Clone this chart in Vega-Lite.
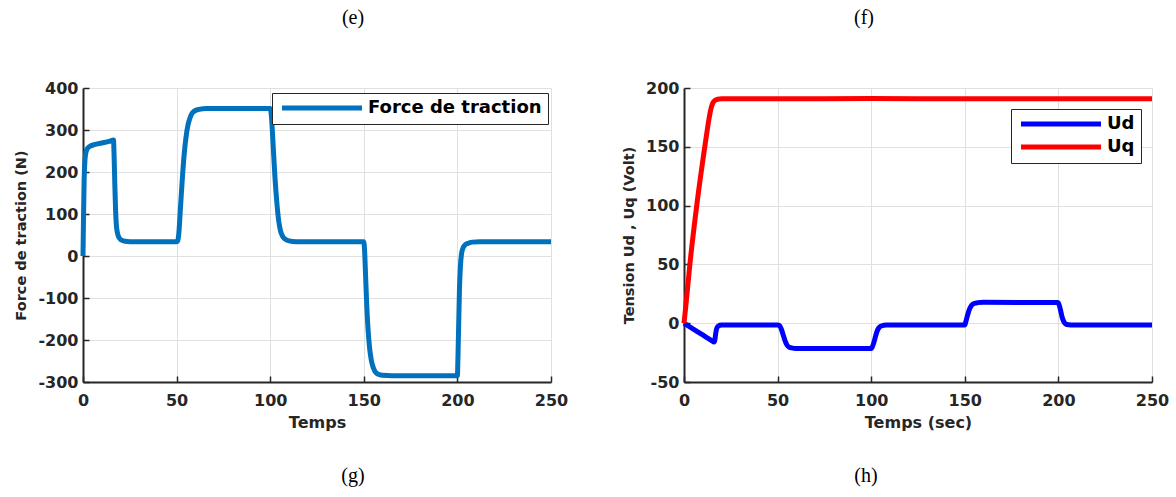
{
  "$schema": "https://vega.github.io/schema/vega-lite/v6.json",
  "background": "white",
  "padding": {"left": 13, "top": 8, "right": 3, "bottom": 5},
  "datasets": {
    "force": [
      {"t": 0, "v": 0, "s": "Force de traction"},
      {"t": 0.3, "v": 100, "s": "Force de traction"},
      {"t": 0.6, "v": 180, "s": "Force de traction"},
      {"t": 1, "v": 225, "s": "Force de traction"},
      {"t": 1.5, "v": 245, "s": "Force de traction"},
      {"t": 2, "v": 253, "s": "Force de traction"},
      {"t": 3, "v": 259, "s": "Force de traction"},
      {"t": 4, "v": 262, "s": "Force de traction"},
      {"t": 6, "v": 265, "s": "Force de traction"},
      {"t": 10, "v": 269, "s": "Force de traction"},
      {"t": 14, "v": 273, "s": "Force de traction"},
      {"t": 16.3, "v": 276, "s": "Force de traction"},
      {"t": 16.6, "v": 240, "s": "Force de traction"},
      {"t": 17, "v": 170, "s": "Force de traction"},
      {"t": 17.4, "v": 110, "s": "Force de traction"},
      {"t": 17.8, "v": 75, "s": "Force de traction"},
      {"t": 18.4, "v": 55, "s": "Force de traction"},
      {"t": 19.2, "v": 44, "s": "Force de traction"},
      {"t": 20.5, "v": 38, "s": "Force de traction"},
      {"t": 22.5, "v": 35, "s": "Force de traction"},
      {"t": 25, "v": 34, "s": "Force de traction"},
      {"t": 50, "v": 34, "s": "Force de traction"},
      {"t": 50.7, "v": 38, "s": "Force de traction"},
      {"t": 51.3, "v": 60, "s": "Force de traction"},
      {"t": 52, "v": 110, "s": "Force de traction"},
      {"t": 53, "v": 180, "s": "Force de traction"},
      {"t": 54, "v": 240, "s": "Force de traction"},
      {"t": 55, "v": 282, "s": "Force de traction"},
      {"t": 56, "v": 310, "s": "Force de traction"},
      {"t": 57, "v": 327, "s": "Force de traction"},
      {"t": 58, "v": 338, "s": "Force de traction"},
      {"t": 59.5, "v": 345, "s": "Force de traction"},
      {"t": 62, "v": 349, "s": "Force de traction"},
      {"t": 66, "v": 351, "s": "Force de traction"},
      {"t": 100, "v": 351, "s": "Force de traction"},
      {"t": 100.7, "v": 330, "s": "Force de traction"},
      {"t": 101.5, "v": 270, "s": "Force de traction"},
      {"t": 102.5, "v": 190, "s": "Force de traction"},
      {"t": 103.5, "v": 130, "s": "Force de traction"},
      {"t": 104.5, "v": 85, "s": "Force de traction"},
      {"t": 105.5, "v": 60, "s": "Force de traction"},
      {"t": 106.5, "v": 48, "s": "Force de traction"},
      {"t": 108, "v": 40, "s": "Force de traction"},
      {"t": 110, "v": 36, "s": "Force de traction"},
      {"t": 114, "v": 34, "s": "Force de traction"},
      {"t": 150, "v": 34, "s": "Force de traction"},
      {"t": 150.4, "v": 15, "s": "Force de traction"},
      {"t": 150.9, "v": -40, "s": "Force de traction"},
      {"t": 151.5, "v": -110, "s": "Force de traction"},
      {"t": 152.2, "v": -170, "s": "Force de traction"},
      {"t": 153, "v": -215, "s": "Force de traction"},
      {"t": 154, "v": -248, "s": "Force de traction"},
      {"t": 155, "v": -265, "s": "Force de traction"},
      {"t": 156, "v": -275, "s": "Force de traction"},
      {"t": 157.5, "v": -281, "s": "Force de traction"},
      {"t": 160, "v": -284, "s": "Force de traction"},
      {"t": 165, "v": -285, "s": "Force de traction"},
      {"t": 200, "v": -285, "s": "Force de traction"},
      {"t": 200.3, "v": -240, "s": "Force de traction"},
      {"t": 200.7, "v": -160, "s": "Force de traction"},
      {"t": 201.1, "v": -80, "s": "Force de traction"},
      {"t": 201.6, "v": -25, "s": "Force de traction"},
      {"t": 202.2, "v": 5, "s": "Force de traction"},
      {"t": 203, "v": 19, "s": "Force de traction"},
      {"t": 204, "v": 26, "s": "Force de traction"},
      {"t": 205.5, "v": 30, "s": "Force de traction"},
      {"t": 208, "v": 33, "s": "Force de traction"},
      {"t": 212, "v": 34, "s": "Force de traction"},
      {"t": 250, "v": 34, "s": "Force de traction"}
    ],
    "tension": [
      {"t": 0, "v": 0, "s": "Ud"},
      {"t": 4, "v": -4, "s": "Ud"},
      {"t": 8, "v": -8, "s": "Ud"},
      {"t": 12, "v": -12, "s": "Ud"},
      {"t": 15, "v": -15, "s": "Ud"},
      {"t": 16, "v": -16, "s": "Ud"},
      {"t": 16.5, "v": -14, "s": "Ud"},
      {"t": 17, "v": -8, "s": "Ud"},
      {"t": 17.6, "v": -4, "s": "Ud"},
      {"t": 18.5, "v": -2.3, "s": "Ud"},
      {"t": 20, "v": -1.6, "s": "Ud"},
      {"t": 22, "v": -1.5, "s": "Ud"},
      {"t": 50, "v": -1.5, "s": "Ud"},
      {"t": 51, "v": -2, "s": "Ud"},
      {"t": 52, "v": -5, "s": "Ud"},
      {"t": 53, "v": -10, "s": "Ud"},
      {"t": 54, "v": -15, "s": "Ud"},
      {"t": 55, "v": -18.5, "s": "Ud"},
      {"t": 56, "v": -20.2, "s": "Ud"},
      {"t": 57.5, "v": -21, "s": "Ud"},
      {"t": 60, "v": -21.5, "s": "Ud"},
      {"t": 100, "v": -21.5, "s": "Ud"},
      {"t": 100.5, "v": -20.5, "s": "Ud"},
      {"t": 101.5, "v": -16, "s": "Ud"},
      {"t": 102.5, "v": -10, "s": "Ud"},
      {"t": 103.5, "v": -5.5, "s": "Ud"},
      {"t": 104.5, "v": -3.2, "s": "Ud"},
      {"t": 106, "v": -2, "s": "Ud"},
      {"t": 108, "v": -1.6, "s": "Ud"},
      {"t": 110, "v": -1.5, "s": "Ud"},
      {"t": 150, "v": -1.5, "s": "Ud"},
      {"t": 150.5, "v": 1, "s": "Ud"},
      {"t": 151.5, "v": 7, "s": "Ud"},
      {"t": 152.5, "v": 12, "s": "Ud"},
      {"t": 153.5, "v": 15, "s": "Ud"},
      {"t": 155, "v": 16.8, "s": "Ud"},
      {"t": 157, "v": 17.5, "s": "Ud"},
      {"t": 160, "v": 17.8, "s": "Ud"},
      {"t": 199.5, "v": 17.5, "s": "Ud"},
      {"t": 200.3, "v": 16, "s": "Ud"},
      {"t": 201, "v": 12, "s": "Ud"},
      {"t": 202, "v": 5, "s": "Ud"},
      {"t": 203, "v": 1, "s": "Ud"},
      {"t": 204, "v": -0.8, "s": "Ud"},
      {"t": 205.5, "v": -1.3, "s": "Ud"},
      {"t": 208, "v": -1.5, "s": "Ud"},
      {"t": 250, "v": -1.5, "s": "Ud"},
      {"t": 0, "v": 0, "s": "Uq"},
      {"t": 1, "v": 15, "s": "Uq"},
      {"t": 3.2, "v": 51, "s": "Uq"},
      {"t": 6.8, "v": 100, "s": "Uq"},
      {"t": 11.2, "v": 151, "s": "Uq"},
      {"t": 13.5, "v": 175, "s": "Uq"},
      {"t": 14.5, "v": 183, "s": "Uq"},
      {"t": 15.5, "v": 187.5, "s": "Uq"},
      {"t": 16.5, "v": 189.5, "s": "Uq"},
      {"t": 18, "v": 190.5, "s": "Uq"},
      {"t": 20, "v": 190.8, "s": "Uq"},
      {"t": 50, "v": 190.8, "s": "Uq"},
      {"t": 100, "v": 191, "s": "Uq"},
      {"t": 150, "v": 190.8, "s": "Uq"},
      {"t": 200, "v": 190.8, "s": "Uq"},
      {"t": 250, "v": 190.8, "s": "Uq"}
    ]
  },
  "hconcat": [
    {
      "title": {"text": "(g)", "orient": "bottom", "frame": "group", "anchor": "middle", "dx": 270, "offset": 36},
      "vconcat": [
        {
          "title": {"text": "(e)", "orient": "top", "frame": "group", "anchor": "middle", "dx": 36, "offset": 52},
          "width": 468,
          "height": 294,
          "data": {"name": "force"},
          "mark": {"type": "line", "strokeWidth": 5, "interpolate": "monotone"},
          "encoding": {
            "x": {"field": "t", "type": "quantitative", "scale": {"domain": [0, 250], "nice": false},
              "axis": {"title": "Temps", "values": [0, 50, 100, 150, 200, 250]}},
            "y": {"field": "v", "type": "quantitative", "scale": {"domain": [-300, 400], "nice": false},
              "axis": {"title": "Force de traction (N)", "values": [-300, -200, -100, 0, 100, 200, 300, 400], "titlePadding": 9}},
            "color": {"field": "s", "type": "nominal", "scale": {"domain": ["Force de traction"], "range": ["#0072BD"]},
              "legend": {"orient": "none", "legendX": 189, "legendY": 5, "title": null,
                "symbolType": "M-1,0H15", "symbolSize": 100, "symbolStrokeWidth": 5,
                "labelOffset": 72, "labelFontSize": 18, "labelLimit": 400, "padding": 6,
                "strokeColor": "#262626", "fillColor": "#ffffff"}}
          }
        }
      ]
    },
    {
      "title": {"text": "(h)", "orient": "bottom", "frame": "group", "anchor": "middle", "dx": 182, "offset": 36},
      "vconcat": [
        {
          "title": {"text": "(f)", "orient": "top", "frame": "group", "anchor": "middle", "dx": -54, "offset": 52},
          "width": 468,
          "height": 294,
          "data": {"name": "tension"},
          "mark": {"type": "line", "strokeWidth": 5, "interpolate": "monotone"},
          "encoding": {
            "x": {"field": "t", "type": "quantitative", "scale": {"domain": [0, 250], "nice": false},
              "axis": {"title": "Temps (sec)", "values": [0, 50, 100, 150, 200, 250]}},
            "y": {"field": "v", "type": "quantitative", "scale": {"domain": [-50, 200], "nice": false},
              "axis": {"title": "Tension Ud , Uq (Volt)", "values": [-50, 0, 50, 100, 150, 200], "titlePadding": 9}},
            "color": {"field": "s", "type": "nominal", "scale": {"domain": ["Ud", "Uq"], "range": ["#0000FF", "#FF0000"]},
              "legend": {"orient": "none", "legendX": 327, "legendY": 21, "title": null,
                "symbolType": "M-1,0H15", "symbolSize": 100, "symbolStrokeWidth": 5,
                "labelOffset": 72, "labelFontSize": 18, "labelLimit": 400, "padding": 6, "rowPadding": 3,
                "strokeColor": "#262626", "fillColor": "#ffffff"}}
          }
        }
      ]
    }
  ],
  "spacing": 53,
  "resolve": {"scale": {"color": "independent"}, "legend": {"color": "independent"}},
  "config": {
    "view": {"stroke": null},
    "title": {"font": "Liberation Serif", "fontSize": 20, "fontWeight": "normal", "color": "#000000"},
    "axis": {
      "labelFont": "DejaVu Sans", "labelFontWeight": "bold", "labelFontSize": 16, "labelColor": "#262626",
      "labelExpr": "replace(datum.label, '\u2212', '-')",
      "titleFont": "DejaVu Sans", "titleFontWeight": "bold", "titleColor": "#262626",
      "domainColor": "#262626", "domainWidth": 2,
      "gridColor": "#e0e0e0", "gridWidth": 1,
      "tickColor": "#262626", "tickSize": -6, "tickWidth": 1.5,
      "labelFlush": false, "labelOverlap": false
    },
    "axisX": {"labelPadding": 16, "titleFontSize": 16, "titlePadding": 6},
    "axisY": {"labelPadding": 11, "titleFontSize": 14.5},
    "legend": {"labelFont": "DejaVu Sans", "labelFontWeight": "bold", "labelColor": "#000000", "cornerRadius": 0, "strokeWidth": 1}
  }
}
